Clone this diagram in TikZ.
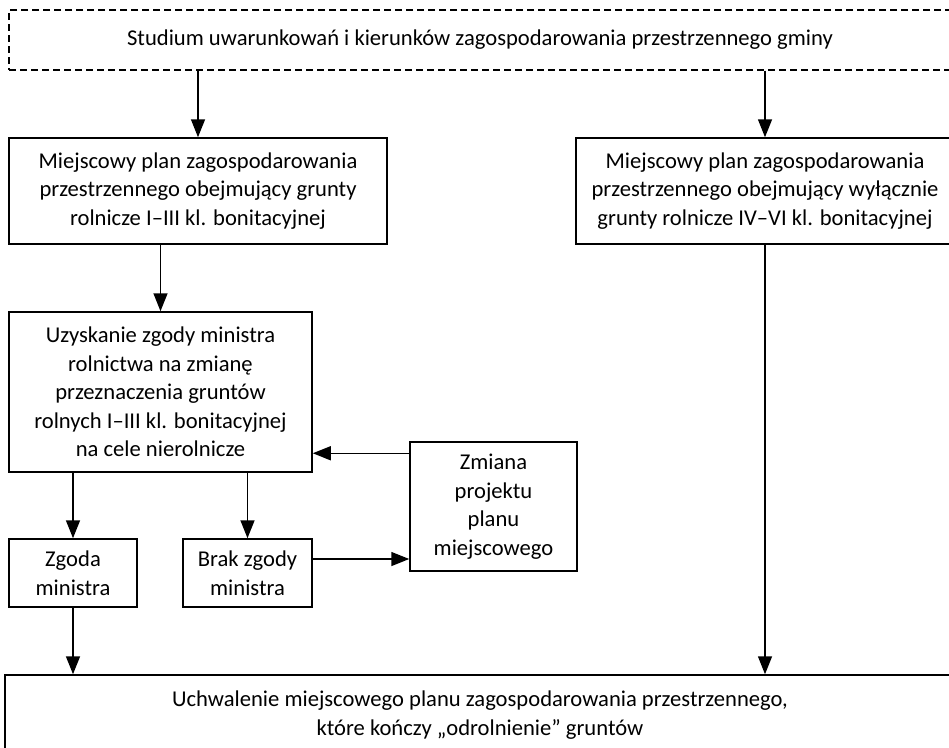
\documentclass[tikz,border=0pt]{standalone}
\usepackage{fontspec}
\setmainfont{Carlito}
\usetikzlibrary{arrows.meta,calc}
\tikzset{
  box/.style={draw, line width=1.5pt, rectangle, inner sep=0pt, align=center, font=\fontsize{22.6}{28.5}\selectfont},
  dbox/.style={box, dash pattern=on 7pt off 4pt, line width=1.3pt},
  arr/.style={line width=1.5pt, -{Triangle[length=18pt,width=14pt]}},
  ln/.style={line width=1.5pt}
}
\begin{document}
\begin{tikzpicture}[x=1pt,y=-1pt]
\useasboundingbox (0,0) rectangle (949,747);
\clip (0,0) rectangle (949,747);
\node[dbox, minimum width=942pt, minimum height=60pt] (top) at (480,40) {Studium uwarunkowań i kierunków zagospodarowania przestrzennego gminy};
\node[box, minimum width=378pt, minimum height=106pt] (b1) at (198,191) {Miejscowy plan zagospodarowania\\przestrzennego obejmujący grunty\\rolnicze I–III kl. bonitacyjnej};
\node[box, minimum width=378pt, minimum height=106pt] (br) at (765,191) {Miejscowy plan zagospodarowania\\przestrzennego obejmujący wyłącznie\\grunty rolnicze IV–VI kl. bonitacyjnej};
\node[box, minimum width=303pt, minimum height=160pt] (b2) at (160.5,392) {Uzyskanie zgody ministra\\rolnictwa na zmianę\\przeznaczenia gruntów\\rolnych I–III kl. bonitacyjnej\\na cele nierolnicze};
\node[box, minimum width=128pt, minimum height=68pt] (zg) at (73,573) {Zgoda\\ministra};
\node[box, minimum width=129pt, minimum height=68pt] (bz) at (247.5,573) {Brak zgody\\ministra};
\node[box, minimum width=167pt, minimum height=129pt] (zm) at (493.5,506.5) {Zmiana\\projektu\\planu\\miejscowego};
\node[box, minimum width=950pt, minimum height=80pt] (bot) at (480,715) {Uchwalenie miejscowego planu zagospodarowania przestrzennego,\\które kończy „odrolnienie” gruntów};
% connectors
\draw[arr] (top.south -| b1.north) -- (b1.north);
\draw[arr] (top.south -| br.north) -- (br.north);
\draw[arr] (b1.south -| b2.north) -- (b2.north);
\draw[arr] (br.south) -- (br.south |- bot.north);
\draw[arr] (b2.south -| zg.north) -- (zg.north);
\draw[arr] (b2.south -| bz.north) -- (bz.north);
\draw[arr] (zg.south) -- (zg.south |- bot.north);
\coordinate (bzout) at ($(bz.east)+(0,-14)$);
\draw[arr] (bzout) -- (bzout -| zm.west);
\coordinate (zmout) at ($(zm.north west)+(0,12)$);
\draw[arr] (zmout) -- (zmout -| b2.east);
\end{tikzpicture}
\end{document}
